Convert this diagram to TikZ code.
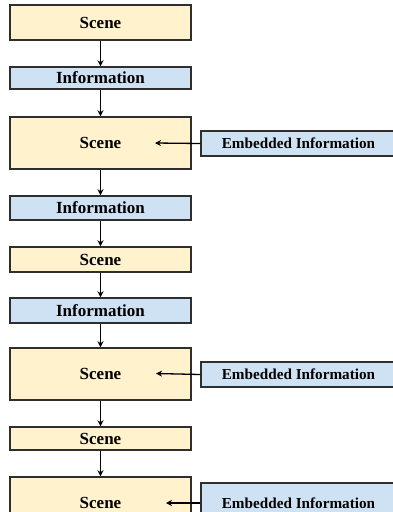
\documentclass[tikz,border=0pt]{standalone}
\usepackage{fontspec}
\setmainfont{Liberation Serif}
\usetikzlibrary{arrows.meta}
\definecolor{scenefill}{HTML}{FFF2CC}
\definecolor{infofill}{HTML}{CFE2F3}
\definecolor{edge}{HTML}{2E2E2E}
\begin{document}
\begin{tikzpicture}[x=1pt,y=-1pt,
  box/.style={draw=edge,line width=1.5pt,minimum width=181pt,inner sep=0pt,font=\bfseries\fontsize{17}{19}\selectfont},
  scenebox/.style={box,fill=scenefill},
  infobox/.style={box,fill=infofill},
  embbox/.style={draw=edge,line width=1.5pt,fill=infofill,minimum width=195pt,minimum height=25pt,inner sep=0pt,font=\bfseries\fontsize{15.2}{17}\selectfont},
  arr/.style={line width=1.3pt,-{Stealth[length=6pt,width=6pt]}}]
\useasboundingbox (0,0) rectangle (393,512);
\clip (0,0) rectangle (393,512);
\node[scenebox,minimum height=35pt] (s1) at (100.5,22.5) {Scene};
\node[infobox,minimum height=22pt] (i1) at (100.5,78) {Information};
\node[scenebox,minimum height=52pt] (s2) at (100.5,143) {Scene};
\node[infobox,minimum height=24pt] (i2) at (100.5,208) {Information};
\node[scenebox,minimum height=25pt] (s3) at (100.5,259.5) {Scene};
\node[infobox,minimum height=25pt] (i3) at (100.5,310.5) {Information};
\node[scenebox,minimum height=52pt] (s4) at (100.5,374) {Scene};
\node[scenebox,minimum height=23pt] (s5) at (100.5,438.5) {Scene};
\node[scenebox,minimum height=52pt] (s6) at (100.5,503) {Scene};
\node[embbox] (e1) at (298.5,143.5) {Embedded Information};
\node[embbox] (e2) at (298.5,374.5) {Embedded Information};
\node[embbox,minimum height=40pt] (e3) at (298.5,503) {Embedded Information};
\coordinate (t1) at (155,143);
\coordinate (t2) at (156,373.5);
\coordinate (t3) at (166,503);
\draw[arr] (s1) -- (i1);
\draw[arr] (i1) -- (s2);
\draw[arr] (s2) -- (i2);
\draw[arr] (i2) -- (s3);
\draw[arr] (s3) -- (i3);
\draw[arr] (i3) -- (s4);
\draw[arr] (s4) -- (s5);
\draw[arr] (s5) -- (s6);
\draw[arr] (e1.west) -- (t1);
\draw[arr] (e2.west) -- (t2);
\draw[arr] (e3.west |- t3) -- (t3);
\end{tikzpicture}
\end{document}
